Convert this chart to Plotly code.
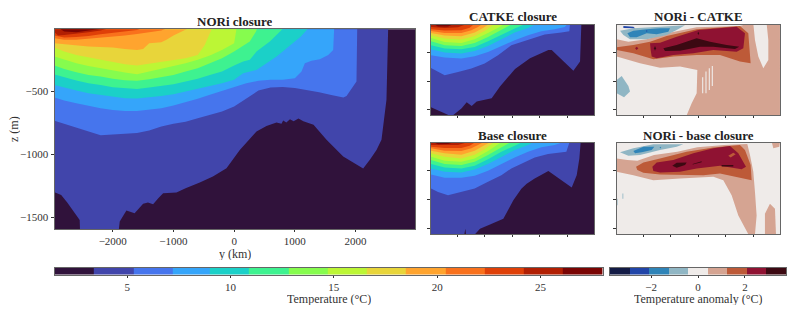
import plotly.graph_objects as go

W, H = 793, 309
FONT = "Liberation Serif"
INK = "#333333"

# ---- colour bands and levels ----
temp_levels = [1.5, 3.4, 5.3, 7.2, 9.0, 10.9, 12.8, 14.7, 16.6, 18.5, 20.4, 22.3, 24.2, 26.1, 28.0]
temp_colors = ["#30123b", "#4145ab", "#4675ed", "#35a5fa", "#1bd0c8", "#3ef290", "#86fc4e", "#bcf635",
               "#e8d53a", "#ffa42e", "#f9711c", "#df4008", "#b11f03", "#7a0403"]
anom_levels = [-3.75, -2.92, -2.08, -1.25, -0.42, 0.42, 1.25, 2.08, 2.92, 3.75]
anom_colors = ["#131b45", "#2145a8", "#2f84b8", "#90b6c4", "#efebe9", "#d5a492", "#bd5a38", "#8f1232", "#3c0912"]
temp_ticks = [5, 10, 15, 20, 25]
anom_ticks = [-2, 0, 2]
y_ticks = [-2000, -1000, 0, 1000, 2000]
z_ticks = [-500, -1000, -1500]

# ---- temperature sections: isotherm y (km) and depth (m), coldest first ----
nori_y = [
    [-2960, -2850, -2750, -2650, -2560, -2545, -2540, -1900, -1885, -1775, -1640, -1500, -1420, -1335, -1250, -1170,
     -950, -800, -566, -350, -126, 93, 368, 533, 698, 780, 808, 860, 920, 980, 1060, 1140, 1308, 1522, 1797, 2016,
     2126, 2236, 2346, 2428, 2510, 2538],
    [-2960, -2800, -2600, -2400, -2200, -2000, -1800, -1600, -1400, -1200, -1000, -800, -600, -400, -200, 0, 200, 400,
     600, 800, 1000, 1200, 1400, 1600, 1800, 1852, 1960, 2016, 2028],
    [-2960, -2800, -2600, -2400, -2200, -2000, -1800, -1600, -1400, -1200, -1000, -800, -600, -400, -200, 0, 200, 400,
     600, 800, 863, 1000, 1110, 1165, 1275, 1412, 1550, 1632, 1648],
    [-2960, -2800, -2600, -2400, -2200, -2000, -1800, -1600, -1400, -1200, -1000, -800, -600, -400, -200, 0, 148, 368,
     500, 700, 900, 1100, 1220],
    [-2960, -2800, -2600, -2400, -2200, -2000, -1800, -1600, -1400, -1200, -1000, -800, -600, -400, -200, 0, 148, 258,
     368, 588, 808],
    [-2960, -2800, -2600, -2400, -2200, -2000, -1800, -1600, -1400, -1200, -1000, -800, -600, -400, -200, 0, 148, 258,
     360, 380],
    [-2960, -2800, -2600, -2400, -2200, -2000, -1800, -1600, -1400, -1200, -1000, -800, -600, -400, -200, 0, 40],
    [-2960, -2800, -2600, -2400, -2200, -2000, -1800, -1600, -1400, -1200, -1000, -800, -600, -484, -400, -362],
    [-2960, -2800, -2600, -2400, -2200, -2000, -1800, -1600, -1500, -1400, -1200, -1115, -1000, -758],
    [-2960, -2800, -2600, -2400, -2200, -2000, -1800, -1600, -1400, -1200, -1115],
    [-2960, -2800, -2600, -2400, -2200, -2000, -1800, -1600, -1527],
    [-2960, -2900, -2800, -2600, -2400, -2200, -2077],
    [-2880, -2800, -2600, -2400, -2200, -2150],
]
nori_z = [
    [-1303, -1324, -1385, -1448, -1509, -1523, -1600, -1600, -1536, -1448, -1469, -1395, -1385, -1398, -1350, -1310,
     -1305, -1271, -1226, -1178, -1112, -966, -820, -775, -749, -759, -733, -749, -722, -738, -717, -738, -767, -886,
     -1019, -1085, -1114, -1045, -966, -886, -568, 0],
    [-735, -759, -785, -820, -850, -844, -839, -831, -812, -780, -759, -743, -714, -685, -661, -621, -560, -494, -470,
     -465, -473, -489, -507, -529, -550, -537, -457, -423, 0],
    [-550, -574, -595, -616, -635, -648, -656, -656, -648, -635, -613, -587, -560, -528, -496, -462, -436, -417, -409,
     -409, -404, -396, -343, -277, -258, -245, -211, -171, 0],
    [-449, -470, -494, -515, -529, -545, -555, -558, -550, -537, -523, -502, -481, -457, -436, -409, -356, -330, -290,
     -224, -144, -65, 0],
    [-367, -391, -415, -436, -449, -468, -476, -481, -470, -457, -444, -423, -401, -370, -343, -295, -264, -250, -184,
     -105, 0],
    [-295, -322, -349, -370, -383, -401, -412, -417, -404, -388, -370, -343, -317, -277, -237, -184, -136, -105, -25, 0],
    [-224, -250, -277, -298, -317, -335, -351, -364, -343, -325, -303, -277, -250, -216, -171, -118, 0],
    [-152, -184, -211, -229, -250, -269, -285, -295, -280, -264, -250, -237, -211, -131, -38, 0],
    [-118, -126, -136, -144, -147, -152, -163, -171, -163, -118, -110, -91, -57, 0],
    [-78, -91, -91, -83, -73, -65, -57, -44, -30, -17, 0],
    [-57, -73, -68, -60, -46, -36, -25, -12, 0],
    [-30, -57, -52, -38, -30, -17, 0],
    [0, -25, -30, -17, -8, 0],
]

catke_y = [
    [-2960, -2632, -2328, -2146, -1842, -1660, -1478, -1295, -749, -445, 102, 649, 1317, 1439, 2229, 2472, 2520],
    [-2960, -2704, -2462, -1975, -1490, -1004, -518, -32, 576, 1183, 1791, 2082, 2107],
    [-2960, -2462, -1854, -1368, -882, -396, 90, 576, 1062, 1548, 1912, 2034],
    [-2960, -2462, -1854, -1368, -882, -396, 90, 576, 880],
    [-2960, -2462, -1854, -1368, -882, -396, 90, 515],
    [-2960, -2462, -1854, -1368, -882, -396, 29],
    [-2960, -2462, -1854, -1368, -882, -396, -299],
    [-2960, -2462, -1854, -1368, -1004, -639],
    [-2960, -2462, -1854, -1368, -1065, -821],
    [-2960, -2462, -1854, -1490, -1247, -1065],
    [-2960, -2462, -1854, -1551, -1368],
    [-2960, -2462, -1975, -1611],
    [-2888, -2704, -2340, -2097],
]
catke_z = [
    [-1457, -1532, -1590, -1590, -1474, -1370, -1434, -1358, -1300, -1097, -790, -604, -459, -459, -819, -662, 0],
    [-771, -841, -899, -841, -783, -696, -551, -377, -290, -191, -157, -133, 0],
    [-551, -592, -609, -568, -493, -389, -290, -203, -133, -99, -58, 0],
    [-447, -505, -522, -476, -389, -273, -157, -75, 0],
    [-377, -435, -447, -406, -307, -191, -87, 0],
    [-307, -377, -389, -336, -232, -116, 0],
    [-249, -319, -336, -273, -162, -41, 0],
    [-203, -261, -278, -215, -128, 0],
    [-162, -209, -220, -157, -75, 0],
    [-128, -162, -162, -116, -58, 0],
    [-99, -122, -116, -70, 0],
    [-58, -75, -64, 0],
    [0, -52, -52, 0],
]

base_y = [
    [-2960, -1745, -1708, -1684, -1356, -1174, -809, -323, 41, 333, 527, 819, 1317, 2168, 2350, 2447, 2496],
    [-2960, -2704, -2340, -1854, -1368, -882, -396, -32, 333, 819, 1305, 1973, 2095],
    [-2960, -2462, -1854, -1368, -882, -396, 90, 576, 1062, 1548, 1912],
    [-2960, -2462, -1854, -1368, -882, -396, 90, 576, 819],
    [-2960, -2462, -1854, -1368, -882, -396, 90, 394],
    [-2960, -2462, -1854, -1368, -882, -396, -32],
    [-2960, -2462, -1854, -1368, -882, -518, -372],
    [-2960, -2462, -1854, -1368, -1004, -639],
    [-2960, -2462, -1854, -1368, -1065, -761],
    [-2960, -2462, -1854, -1490, -1247, -1004],
    [-2960, -2462, -1854, -1551, -1308],
    [-2960, -2462, -1975, -1551],
    [-2924, -2704, -2340, -2037],
]
base_z = [
    [-1600, -1600, -1508, -1600, -1600, -1508, -1433, -1334, -1015, -813, -730, -638, -510, -795, -580, -290, 0],
    [-812, -870, -928, -870, -812, -696, -580, -464, -377, -273, -215, -174, 0],
    [-568, -626, -626, -592, -505, -389, -273, -174, -99, -58, 0],
    [-464, -522, -534, -481, -389, -261, -145, -58, 0],
    [-389, -447, -464, -418, -307, -174, -70, 0],
    [-319, -389, -406, -348, -232, -99, 0],
    [-261, -331, -348, -290, -162, -52, 0],
    [-203, -261, -290, -226, -133, 0],
    [-157, -203, -226, -157, -75, 0],
    [-116, -157, -162, -116, -58, 0],
    [-87, -110, -110, -70, 0],
    [-58, -64, -58, 0],
    [0, -46, -41, 0],
]

# ---- anomaly sections: band index (into anom_colors) and region outlines ----
diff1_band = [5, 3, 3, 2, 1, 1, 6, 7, 7, 8, 8, 8, 4, 4, 4, 4]
diff1_y = [
    [-2960, -2536, -1869, -1142, -51, 1524, 1827, 2009, 2070, 2191, 2373, 2555, 2555, 2494, 2979, 2979, -415, -233, -51,
     -27, -657, -1384, -2112, -2596, -2960],
    [-2839, -2354, -1384, -475, -778, -1142, -1869, -2475, -2718],
    [-2960, -2779, -2536, -2475, -2693, -2960],
    [-2572, -2354, -1869, -1384, -1021, -1081, -1506, -1869, -2233, -2475],
    [-2718, -2354, -2293, -2718],
    [-1900, -1869, -1838, -1869],
    [-2960, -2354, -1748, -1142, -51, 1524, 1827, 1912, 1524, 797, -51, -900, -1627, -2354, -2960],
    [-1748, -1384, -778, 9, 1403, 1706, 1646, 1403, 555, -172, -900, -1506, -1687, -1724],
    [-2293, -2233, -2172, -2233],
    [-1263, -778, -51, 434, 1040, 1500, 1343, 555, 70, -657, -1203],
    [-1603, -1567, -1530, -1567],
    [-20, 9, 40, 9],
    [147, 187, 187, 147],
    [268, 308, 308, 268],
    [389, 429, 429, 389],
    [498, 538, 538, 498],
]
diff1_z = [
    [-274, -314, -274, -169, -65, -42, 0, 0, -285, -575, -778, -633, -285, 0, 0, -1596, -1596, -1387, -1213, -807, -749,
     -767, -691, -622, -575],
    [-123, -82, -53, -30, -111, -198, -274, -274, -198],
    [-981, -912, -1086, -1184, -1283, -1213],
    [-169, -123, -100, -82, -82, -140, -187, -169, -239, -239],
    [-42, -53, -82, -76],
    [-129, -117, -129, -141],
    [-413, -372, -314, -216, -100, -42, -169, -691, -662, -546, -546, -575, -622, -517, -459],
    [-343, -332, -227, -111, -53, -169, -430, -488, -459, -517, -546, -604, -575, -459],
    [-430, -401, -430, -459],
    [-430, -372, -256, -314, -372, -401, -442, -401, -401, -471, -477],
    [-430, -390, -430, -471],
    [-169, -140, -169, -198],
    [-935, -935, -1213, -1213],
    [-836, -836, -1213, -1213],
    [-778, -778, -1155, -1155],
    [-738, -738, -1086, -1086],
]

diff2_band = [5, 5, 5, 3, 3, 3, 2, 2, 6, 7, 6, 8, 8, 8]
diff2_y = [
    [-2960, -2572, -2209, -1603, -754, -27, 943, 1791, 1888, 2009, 2070, 2130, 2070, 1827, 1464, 1221, 918, 555, -657,
     -1627, -2354, -2960],
    [2676, 2979, 2955, 2736],
    [2433, 2433, 2615, 2797, 2833],
    [-2839, -2354, -1627, -536, -778, -1384, -2112, -2536],
    [-2960, -2930, -2930, -2960],
    [-2750, -2720, -2720, -2750],
    [-2354, -1990, -1590, -1687, -2051, -2293],
    [-1400, -1370, -1340, -1370],
    [-2257, -1990, -1384, -415, 555, 1524, 1706, 1912, 1949, 1524, 797, 191, -657, -1384, -1990, -2209],
    [-1663, -1506, -900, -172, 555, 1161, 1464, 1743, 1585, 797, -51, -657, -1384, -1627],
    [1100, 1282, 1367, 1185],
    [-936, -778, -415, -475, -778],
    [-197, 130, 130, -197],
    [858, 1282, 1282, 858],
]
diff2_z = [
    [-290, -319, -331, -232, -174, -99, -58, -41, -232, -522, -870, -1276, -1600, -1600, -1276, -928, -667, -609, -638,
     -667, -580, -522],
    [0, 0, -87, -116],
    [-1600, -1247, -1073, -1160, -1600],
    [-186, -116, -46, -46, -87, -145, -232, -244],
    [-986, -986, -1102, -1102],
    [-899, -899, -986, -986],
    [-162, -87, -87, -145, -186, -203],
    [-104, -89, -104, -119],
    [-435, -360, -290, -174, -104, -58, -145, -406, -667, -626, -551, -580, -580, -568, -539, -493],
    [-435, -360, -319, -203, -116, -75, -203, -435, -476, -418, -464, -522, -534, -510],
    [-244, -191, -220, -273],
    [-418, -365, -360, -406, -452],
    [-385, -340, -355, -395],
    [-406, -406, -429, -429],
]

Y_RANGE = [-2960, 2980]
MAIN_Z = [-1595, -7]
SMALL_Z = [-1597, -19]

fig = go.Figure()


def dom_x(a, b):
    return [a / W, b / W]


def dom_y(top, bottom):
    return [1 - bottom / H, 1 - top / H]


def section(ax, ys, zs):
    xa, ya = ("x" + ax, "y" + ax)
    fig.add_trace(go.Scatter(x=Y_RANGE, y=[-1700, -1700], mode="lines", line=dict(width=0), fill="tozeroy",
                             fillcolor=temp_colors[0], xaxis=xa, yaxis=ya, hoverinfo="skip", showlegend=False))
    for i, (y, z) in enumerate(zip(ys, zs)):
        fig.add_trace(go.Scatter(x=y, y=z, mode="lines", line=dict(width=0), fill="tozeroy",
                                 fillcolor=temp_colors[i + 1], xaxis=xa, yaxis=ya, hoverinfo="skip", showlegend=False))


def anomaly(ax, bands, ys, zs):
    for b, y, z in zip(bands, ys, zs):
        fig.add_trace(go.Scatter(x=y, y=z, mode="lines", line=dict(width=0), fill="toself", fillcolor=anom_colors[b],
                                 xaxis="x" + ax, yaxis="y" + ax, hoverinfo="skip", showlegend=False))


def axes(ax, x0, x1, top, bottom, zr, labels=False):
    common = dict(showgrid=False, zeroline=False, showline=True, linecolor="#666666", linewidth=1, mirror=True,
                  ticks="outside", tickwidth=0.8, tickcolor=INK, showticklabels=labels,
                  tickfont=dict(family=FONT, size=11, color=INK))
    fig.update_layout({
        "xaxis" + ax: dict(domain=dom_x(x0, x1), range=Y_RANGE, anchor="y" + ax, tickvals=y_ticks,
                           tickformat="d", ticklen=2, **common),
        "yaxis" + ax: dict(domain=dom_y(top, bottom), range=zr, anchor="x" + ax, tickvals=z_ticks,
                           tickformat="d", ticklen=3, **common),
    })


def colorbar(ax, levels, colors, ticks, x0, x1):
    n = len(colors)
    scale = []
    for i, c in enumerate(colors):
        scale += [[i / n, c], [(i + 1) / n, c]]
    fig.add_trace(go.Heatmap(x=levels, y=[0, 1], z=[list(range(n))], zmin=-0.5, zmax=n - 0.5, colorscale=scale,
                             showscale=False, hoverinfo="skip", xaxis="x" + ax, yaxis="y" + ax))
    fig.update_layout({
        "xaxis" + ax: dict(domain=dom_x(x0, x1), range=[levels[0], levels[-1]], anchor="y" + ax, tickvals=ticks,
                           tickformat="d", ticks="outside", ticklen=2, tickwidth=0.8, tickcolor=INK, showgrid=False, zeroline=False,
                           showline=True, linecolor="#666666", mirror=True,
                           tickfont=dict(family=FONT, size=11, color=INK)),
        "yaxis" + ax: dict(domain=dom_y(268, 274.5), range=[0, 1], anchor="x" + ax, showticklabels=False, ticks="",
                           showgrid=False, zeroline=False, showline=True, linecolor="#666666", mirror=True),
    })


def label(text, cx, cy, size=12, angle=0, color=INK):
    fig.add_annotation(text=text, x=cx / W, y=1 - cy / H, xref="paper", yref="paper", showarrow=False, textangle=angle,
                       font=dict(family=FONT, size=size, color=color), xanchor="center", yanchor="middle",
                       borderpad=0, height=size + 1)


section("", nori_y, nori_z)
section("2", catke_y, catke_z)
anomaly("3", diff1_band, diff1_y, diff1_z)
section("4", base_y, base_z)
anomaly("5", diff2_band, diff2_y, diff2_z)

axes("", 54.5, 415, 29.3, 229, MAIN_Z, labels=True)
axes("2", 431, 594, 24.7, 115.3, SMALL_Z)
axes("3", 616.7, 780, 24.7, 115.3, SMALL_Z)
axes("4", 431, 594, 142.7, 234, SMALL_Z)
axes("5", 616.7, 780, 142.7, 234, SMALL_Z)

colorbar("6", temp_levels, temp_colors, temp_ticks, 54.8, 602.5)
colorbar("7", anom_levels, anom_colors, anom_ticks, 610, 786)

label("<b>NORi closure</b>", 235, 21, 13, color="#222222")
label("<b>CATKE closure</b>", 512.5, 16, 13, color="#222222")
label("<b>NORi - CATKE</b>", 698.5, 16, 13, color="#222222")
label("<b>Base closure</b>", 512.5, 134.5, 13, color="#222222")
label("<b>NORi - base closure</b>", 698.5, 134.5, 13, color="#222222")
label("y (km)", 235, 253.5)
label("z (m)", 13, 129, angle=-90)
label("Temperature (°C)", 329, 298)
label("Temperature anomaly (°C)", 698, 298)

fig.update_layout(width=W, height=H, margin=dict(l=0, r=0, t=0, b=0), paper_bgcolor="white", plot_bgcolor=anom_colors[4],
                  showlegend=False, font=dict(family=FONT, color=INK))
fig.write_html("out.html", config=dict(displayModeBar=False),
               post_script="document.body.style.margin='0';document.documentElement.style.overflow='hidden';")
